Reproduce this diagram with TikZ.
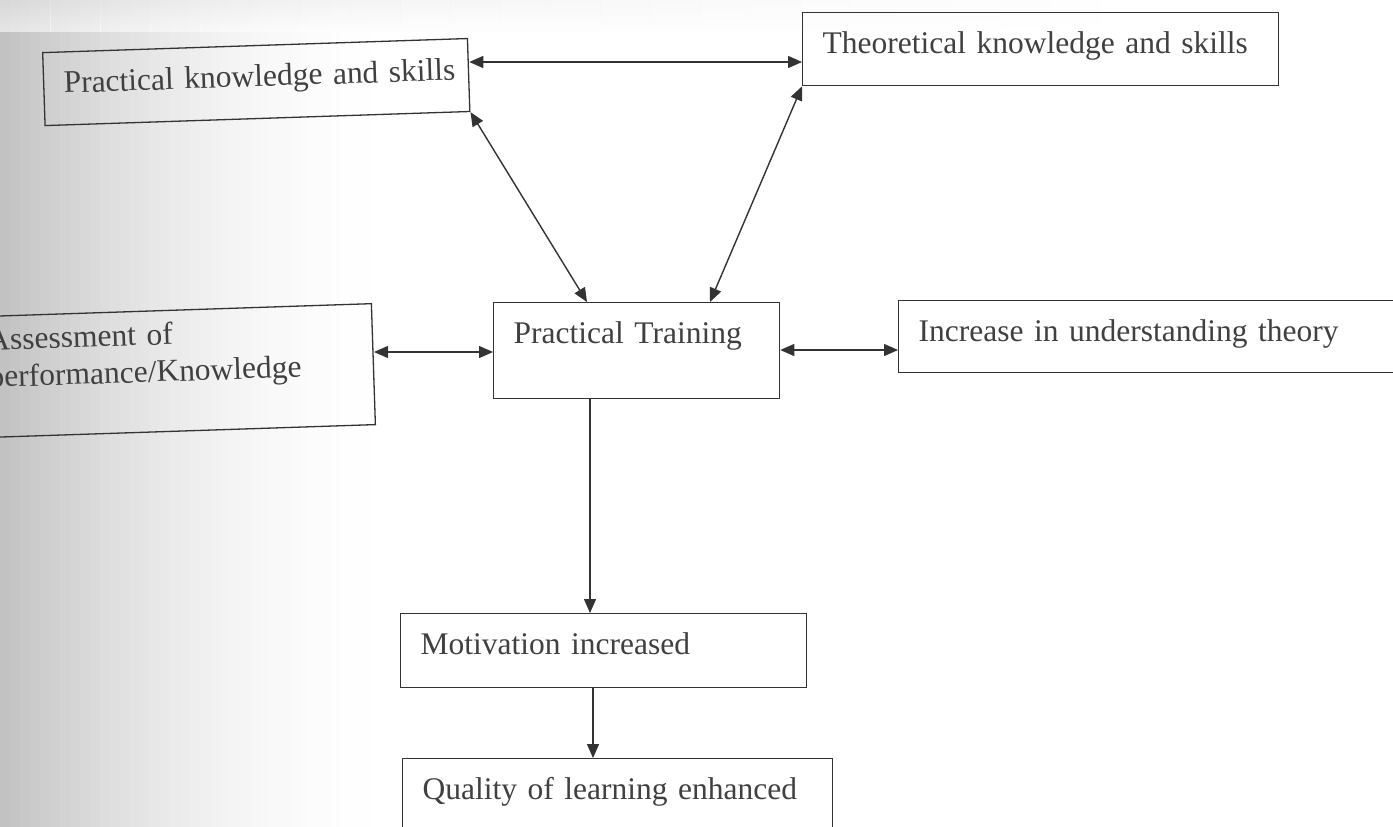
\documentclass[tikz,border=0pt]{standalone}
\usepackage{fontspec}
\setmainfont{Liberation Serif}
\usetikzlibrary{arrows.meta,calc}
\tikzset{
  box/.style={draw=black!80, line width=1.3pt, rectangle, inner xsep=20pt, inner ysep=0pt,
    align=left, font=\fontsize{31.5}{37}\selectfont, text=black!75, text height=41pt},
  tip/.tip={Triangle[length=14pt,width=12pt]},
  biarrow/.style={draw=black!80, line width=1.4pt, tip-tip},
  onearrow/.style={draw=black!80, line width=1.4pt, -tip},
}
\begin{document}
\begin{tikzpicture}[x=1pt,y=-1pt]
\useasboundingbox (0,0) rectangle (1393,827);
\clip (0,0) rectangle (1393,827);
% scan shading at the left and top edges
\fill[white] (0,0) rectangle (1393,827);
\foreach \i in {0,...,39}{
  \pgfmathsetmacro{\p}{24*(1-\i/40)*(1-\i/40)}
  \fill[black!\p] (\i*10,0) rectangle (\i*10+10.6,827);
}
\foreach \i in {0,...,21}{
  \pgfmathsetmacro{\q}{9*(1-\i/22)}
  \foreach \j in {0,...,7}{
    \pgfmathsetmacro{\r}{\q*(1-\j/8)}
    \fill[black!\r, opacity=0.6] (\i*50,\j*4) rectangle (\i*50+50.6,\j*4+4.4);
  }
}

% helper coordinates for straight connectors
\coordinate (yA) at (0,62);
\coordinate (yB) at (0,352);
\coordinate (yC) at (0,350);
\coordinate (xV) at (590,0);
\coordinate (xW) at (593,0);

\node[box, anchor=north west, rotate=1.9, text width=385pt, text depth=32pt] (PK) at (42,52)
  {\mbox{Practical knowledge and skills}};
\node[box, anchor=north west, text width=436pt, text depth=32pt] (TK) at (802,12)
  {\mbox{Theoretical knowledge and skills}};
\node[box, anchor=north west, text width=246pt, text depth=55pt] (PT) at (493,302)
  {\mbox{Practical Training}};
\node[box, anchor=north east, rotate=1.9, text width=365pt, text height=34pt, text depth=87pt] (AS) at (372,303)
  {\begin{tabular}[t]{@{}l@{}}Assessment of\\performance/Knowledge\end{tabular}};
\node[box, anchor=north west, text width=480pt, text depth=31pt] (IU) at (898,300)
  {\mbox{Increase in understanding theory}};
\node[box, anchor=north west, text width=366pt, text depth=33pt] (MI) at (400,613)
  {\mbox{Motivation increased}};
\node[box, anchor=north west, text width=390pt, text depth=50pt] (QL) at (402,758)
  {\mbox{Quality of learning enhanced}};

% connectors
\draw[biarrow] (PK.east |- yA) -- (TK.west |- yA);
\draw[biarrow] (PK.south east) -- ($(PT.north west)+(94,0)$);
\draw[biarrow] (TK.south west) -- ($(PT.north west)+(217,0)$);
\draw[biarrow] (AS.east |- yB) -- (PT.west |- yB);
\draw[biarrow] (PT.east |- yC) -- (IU.west |- yC);
\draw[onearrow] (PT.south -| xV) -- (MI.north -| xV);
\draw[onearrow] (MI.south -| xW) -- (QL.north -| xW);
\end{tikzpicture}
\end{document}
